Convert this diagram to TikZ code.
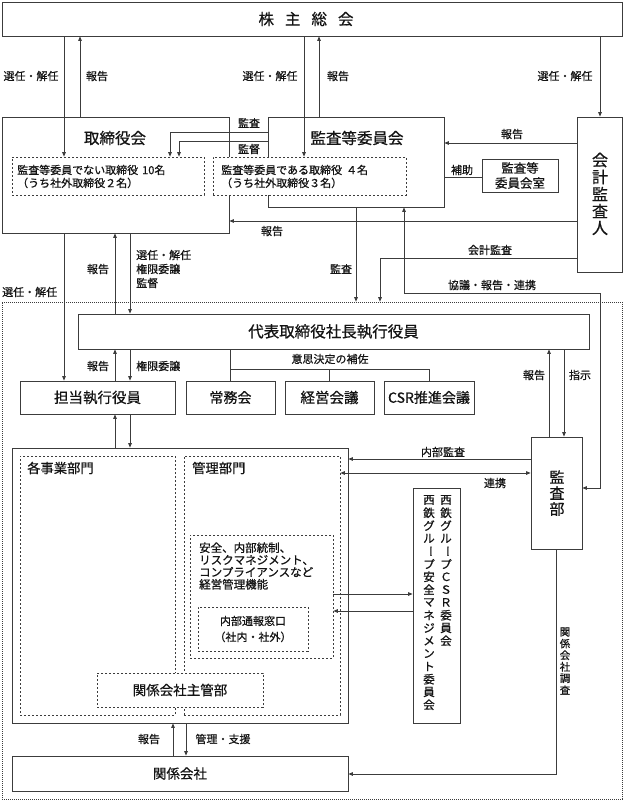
\documentclass[tikz,border=0pt]{standalone}
\usepackage{fontspec}
\setmainfont{Noto Sans CJK JP}[RawFeature={embolden=0.7}]
\usetikzlibrary{arrows.meta}
\definecolor{lc}{RGB}{60,60,60}
\definecolor{tc}{RGB}{20,20,20}
\newcommand{\myfs}[1]{\fontsize{#1}{#1}\selectfont}
\newcommand{\bxat}[7]{\node[#1, minimum width={#5-#3}, minimum height={#6-#4}] (#2) at ({(#3+#5)/2},{(#4+#6)/2}) {#7};}
\newcommand{\vbar}{\rotatebox[origin=c]{-90}{ー}}
\begin{document}
\begin{tikzpicture}[x=1pt,y=-1pt,
  bx/.style={draw=lc, line width=0.8pt, fill=white, inner sep=0pt, text=tc},
  dbx/.style={draw=lc, line width=0.7pt, dash pattern=on 2.4pt off 1.6pt, fill=white, inner sep=0pt, text=tc},
  obx/.style={draw=lc, line width=0.6pt, dash pattern=on 0.8pt off 1.2pt, inner sep=0pt},
  lab/.style={inner sep=0pt, text=tc, font=\myfs{11}},
  ln/.style={draw=lc, line width=0.8pt},
  arr/.style={ln, -{Triangle[length=4.5pt,width=3.6pt]}},
  darr/.style={ln, {Triangle[length=4.5pt,width=3.6pt]}-{Triangle[length=4.5pt,width=3.6pt]}}
]
\useasboundingbox (0,0) rectangle (624,802);
% helper columns / rows
\foreach \v in {64,80,115,130,170,173,179,186,230,304,319,329,356,380,404,429,549,564,600}{\coordinate (X\v) at (\v,0);}
\foreach \v in {132,141,143,177,221,258,293,369,459,473,488,594,611,774}{\coordinate (Y\v) at (0,\v);}

% outer dotted frame
\bxat{obx}{outer}{2}{302}{622}{799}{}

% top boxes
\bxat{bx}{sh}{2}{2}{622}{36}{}
\node[lab,font=\myfs{15.5}] (sht) at (306,19) {株\hspace{11pt}主\hspace{11pt}総\hspace{11pt}会};
\bxat{bx}{tk}{2}{117}{229}{233}{}
\node[lab,font=\myfs{15.5}] (tkt) at (115,138) {取締役会};
\bxat{bx}{ak}{268}{117}{444}{207}{}
\node[lab,font=\myfs{15.5}] (akt) at (357,138) {監査等委員会};
\bxat{bx}{kk}{577}{117}{622}{272}{}
\bxat{bx,font=\fontsize{12.5}{15}\selectfont,align=center}{ar}{482}{159}{558}{192}{監査等\\委員会室}
\bxat{dbx}{d1}{12}{157}{204}{195}{}
\bxat{dbx}{d2}{213}{157}{406}{195}{}
\node[lab,anchor=west,align=left,font=\fontsize{11}{13}\selectfont] (d1t) at (17,176.5) {監査等委員でない取締役\hspace{4pt}10名\\（うち社外取締役２名）};
\node[lab,anchor=west,align=left,font=\fontsize{11}{13}\selectfont] (d2t) at (221,176.5) {監査等委員である取締役\hspace{4pt}４名\\（うち社外取締役３名）};

% executive level
\bxat{bx,font=\myfs{15.5}}{ceo}{78}{314}{589}{349}{代表取締役社長執行役員}
\bxat{bx,font=\myfs{14.5}}{tantou}{20}{381}{175}{414}{担当執行役員}
\bxat{bx,font=\myfs{14}}{joumu}{186}{381}{275}{414}{常務会}
\bxat{bx,font=\myfs{14.5}}{keiei}{285}{381}{374}{414}{経営会議}
\bxat{bx,font=\myfs{14}}{csr}{384}{381}{474}{414}{CSR推進会議}

% organisation block
\bxat{bx}{org}{12}{448}{348}{723}{}
\bxat{dbx}{jigyo}{20}{456}{175}{715}{}
\bxat{dbx}{kanri}{184}{456}{340}{715}{}
\node[lab,anchor=west,font=\myfs{13.3}] (jigyot) at (27,468) {各事業部門};
\node[lab,anchor=west,font=\myfs{13.3}] (kanrit) at (192,468) {管理部門};
\bxat{dbx}{func}{190}{535}{333}{658}{}
\node[lab,anchor=west,align=left,font=\fontsize{11.5}{12.2}\selectfont] (funct) at (199,566) {安全、内部統制、\\リスクマネジメント、\\コンプライアンスなど\\経営管理機能};
\bxat{dbx,font=\fontsize{11}{16}\selectfont,align=center}{tsuho}{198}{607}{308}{651}{内部通報窓口\\（社内・社外）}
\bxat{dbx,font=\myfs{13.5}}{shukan}{97}{673}{263}{707}{関係会社主管部}
\bxat{bx}{cmte}{413}{488}{460}{723}{}
\bxat{bx}{kansabu}{531}{437}{582}{549}{}
\bxat{bx,font=\myfs{13.5}}{kaisha}{12}{756}{348}{791}{関係会社}

% vertical texts
\foreach \c [count=\i] in {会,計,監,査,人}
  \node[lab,font=\myfs{16}] (kkv\i) at (600,{160+17*(\i-1)}) {\c};
\foreach \c [count=\i] in {監,査,部}
  \node[lab,font=\myfs{15}] (ksv\i) at (557,{477+16*(\i-1)}) {\c};
\foreach \c [count=\i] in {西,鉄,グ,ル,\vbar,プ,Ｃ,Ｓ,Ｒ,委,員,会}
  \node[lab,font=\myfs{11.5}] (cra\i) at (446,{500+12.8*(\i-1)}) {\c};
\foreach \c [count=\i] in {西,鉄,グ,ル,\vbar,プ,安,全,マ,ネ,ジ,メ,ン,ト,委,員,会}
  \node[lab,font=\myfs{11.5}] (crb\i) at (429,{500+12.8*(\i-1)}) {\c};
\foreach \c [count=\i] in {関,係,会,社,調,査}
  \node[lab,font=\myfs{10.5}] (kcv\i) at (565,{632+11.6*(\i-1)}) {\c};

% connectors: top
\draw[arr] (sh.south -| X64) -- (d1.north -| X64);
\draw[arr] (tk.north -| X80) -- (sh.south -| X80);
\draw[arr] (sh.south -| X304) -- (d2.north -| X304);
\draw[arr] (ak.north -| X319) -- (sh.south -| X319);
\draw[arr] (sh.south -| X600) -- (kk.north -| X600);
\draw[arr] (ak.west |- Y132) -- (Y132 -| X170) -- (d1.north -| X170);
\draw[arr] (ak.west |- Y141) -- (Y141 -| X179) -- (d1.north -| X179);
\draw[arr] (kk.west |- Y143) -- (ak.east |- Y143);
\draw[ln] (ak.east |- Y177) -- (ar.west |- Y177);
\draw[arr] (kk.west |- Y221) -- (tk.east |- Y221);
\draw[arr] (ak.south -| X356) -- (outer.north -| X356);
\draw[arr] (kk.west |- Y258) -- (Y258 -| X380) -- (outer.north -| X380);
\draw[darr] (ak.south -| X404) -- (Y293 -| X404) -- (Y293 -| X600) -- (Y488 -| X600) -- (kansabu.east |- Y488);

% board <-> executives
\draw[arr] (tk.south -| X64) -- (tantou.north -| X64);
\draw[arr] (ceo.north -| X115) -- (tk.south -| X115);
\draw[arr] (tk.south -| X130) -- (ceo.north -| X130);
\draw[arr] (tantou.north -| X115) -- (ceo.south -| X115);
\draw[arr] (ceo.south -| X130) -- (tantou.north -| X130);
\draw[arr] (org.north -| X115) -- (tantou.south -| X115);
\draw[arr] (tantou.south -| X130) -- (org.north -| X130);
\draw[ln] (ceo.south -| joumu.north) -- (joumu.north);
\draw[ln] (Y369 -| joumu.north) -- (Y369 -| csr.north) -- (csr.north);
\draw[ln] (Y369 -| keiei.north) -- (keiei.north);

% audit department
\draw[arr] (kansabu.north -| X549) -- (ceo.south -| X549);
\draw[arr] (ceo.south -| X564) -- (kansabu.north -| X564);
\draw[arr] (kansabu.west |- Y459) -- (org.east |- Y459);
\draw[darr] (kanri.east |- Y473) -- (kansabu.west |- Y473);
\draw[arr] (func.east |- Y594) -- (cmte.west |- Y594);
\draw[arr] (cmte.west |- Y611) -- (func.east |- Y611);
\draw[arr] (kansabu.south) -- (Y774 -| kansabu.south) -- (kaisha.east |- Y774);
\draw[arr] (kaisha.north -| X173) -- (org.south -| X173);
\draw[arr] (org.south -| X186) -- (kaisha.north -| X186);

% labels
\node[lab] (L1) at (31,76) {選任・解任};
\node[lab] (L2) at (97,76) {報告};
\node[lab] (L3) at (270,76) {選任・解任};
\node[lab] (L4) at (338,76) {報告};
\node[lab] (L5) at (565,76) {選任・解任};
\node[lab] (L6) at (249,123) {監査};
\node[lab] (L7) at (249,149) {監督};
\node[lab] (L8) at (512,134) {報告};
\node[lab] (L9) at (462,170) {補助};
\node[lab] (L10) at (272,231) {報告};
\node[lab] (L11) at (490,250) {会計監査};
\node[lab] (L12) at (341,269) {監査};
\node[lab] (L13) at (492,285) {協議・報告・連携};
\node[lab,anchor=west] (L14) at (2,292) {選任・解任};
\node[lab] (L15) at (98,269) {報告};
\node[lab,anchor=west,align=left,font=\fontsize{11}{14}\selectfont] (L16) at (136,269) {選任・解任\\権限委譲\\監督};
\node[lab] (L17) at (98,366) {報告};
\node[lab,anchor=west] (L18) at (136,366) {権限委譲};
\node[lab] (L19) at (330,359) {意思決定の補佐};
\node[lab] (L20) at (534,375) {報告};
\node[lab] (L21) at (580,375) {指示};
\node[lab] (L22) at (443,452) {内部監査};
\node[lab] (L23) at (495,483) {連携};
\node[lab] (L24) at (149,739) {報告};
\node[lab] (L25) at (223,739) {管理・支援};
\end{tikzpicture}
\end{document}
